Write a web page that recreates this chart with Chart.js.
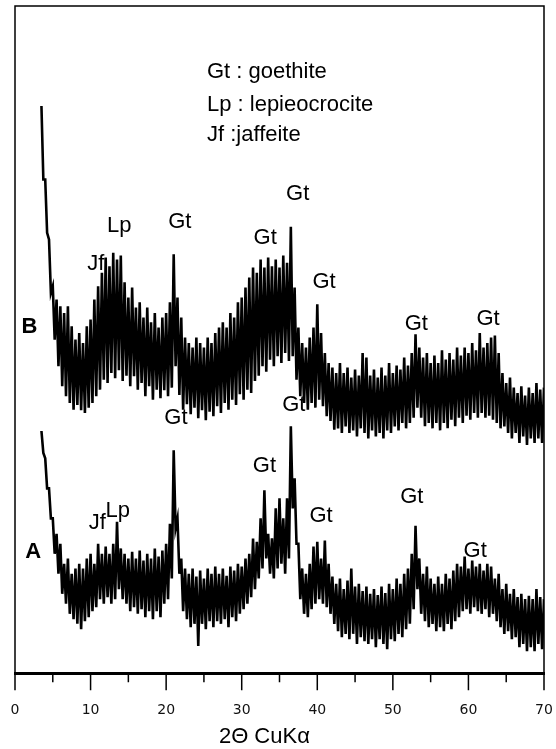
<!DOCTYPE html>
<html>
<head>
<meta charset="utf-8">
<script src="https://cdn.jsdelivr.net/npm/chart.js@4.4.1/dist/chart.umd.min.js"></script>
<style>
  html, body { margin: 0; padding: 0; background: #fff; }
  #wrap { width: 556px; height: 749px; position: relative; }
</style>
</head>
<body>
<div id="wrap"><canvas id="xrdChart"></canvas></div>
<script>
// 2-theta grid: first angle and step (degrees)
var angleStart = 3.5;
var angleStep = 0.5;

// pattern B (upper trace): top and bottom of the noisy band, 3.5 .. 70 deg
var bHigh = [85, 74, 65,
  58, 56, 55, 54, 55, 52, 50, 51, 49.5, 52,
  53, 56, 58, 60, 62.3, 61, 63, 62, 62.6, 58.6,
  56.3, 57.8, 54.8, 55.6, 53.3, 54.8, 52.6, 54, 51.8, 53.3,
  54, 55.6, 62.8, 56.3, 53.3, 50.3, 49.5, 48.8, 50.3, 49.5,
  48.8, 50.3, 49.5, 51, 51.8, 52.6, 51.8, 54, 53.3, 55.6,
  56.3, 57.8, 59.3, 60.8, 60, 62, 60.8, 62.3, 61, 62,
  60.8, 62.6, 61.5, 66.9, 57.8, 51.8, 49.5, 48.8, 50.3, 51.8,
  55.3, 51, 48, 46.5, 45.8, 45, 46.5, 45, 45.8, 44.3,
  45.5, 44.6, 48, 47.3, 44.6, 45.5, 44.3, 45.8, 44.6, 46.5,
  45, 46.1, 45.5, 47.3, 46.1, 48, 50.8, 48.8, 47.3, 48,
  46.5, 47.6, 46.5, 48.4, 47, 48, 47, 48.8, 47.6, 48.8,
  48, 49.5, 48.4, 51, 48.8, 49.5, 50.3, 50.6, 48, 45,
  43.5, 44.3, 42.8, 42, 43, 41.6, 42.8, 42, 43.5, 42.5,
  42.8];
var bLow = [74, 66, 57,
  50, 46, 43, 41.5, 40.5, 39.5, 40.2, 39.4, 39, 39.8,
  40.5, 41.5, 42.5, 44, 43.5, 45, 44.2, 45.4, 43.8, 44.6,
  43, 44.5, 42.5, 43.5, 41.5, 43, 41, 42.5, 41.2, 42.4,
  41.5, 42.8, 46, 41.7, 39.5, 40.3, 38.8, 39.8, 38.2, 39.4,
  37.9, 39.2, 38.5, 40, 39, 40.5, 39.5, 41, 40.2, 41.8,
  41, 42.5, 42, 43.8, 44.6, 46, 45.2, 47, 46, 47.5,
  46.5, 48, 46.8, 47.5, 44, 41.5, 40.5, 39.5, 40.5, 39.8,
  41, 40, 38.5, 37.8, 36.5, 36.7, 36, 37, 36, 36.4,
  35.5, 36.7, 36, 35.2, 36.4, 35.5, 36, 35.2, 36.4, 36,
  37, 36.4, 37.5, 36.7, 37.5, 38.3, 39.8, 38.3, 37, 37.5,
  36.7, 37.5, 36.4, 37.5, 36.7, 38, 37, 38.3, 37.5, 38.6,
  38, 39, 38.3, 39, 38.3, 38.6, 38, 37.5, 36.7, 37,
  36, 35.2, 36, 34.5, 35.5, 34.2, 35.2, 34.5, 35.2, 34.5,
  35];

// pattern A (lower trace)
var aHigh = [36.3, 32.2, 27.7,
  23.2, 20.9, 19.4, 16.4, 17.2, 14.9, 15.7, 16.4, 15.7, 17.2,
  17.9, 16.4, 19.4, 17.9, 19, 17.9, 19.4, 22.7, 18.7, 17.9,
  17.2, 18.2, 17.2, 18.4, 16.9, 17.9, 17.2, 18.7, 17.5, 18.4,
  19.4, 22.4, 33.4, 23.2, 17.2, 15.7, 14.9, 15.7, 14.5, 15.4,
  14.2, 15.7, 14.9, 16, 14.9, 15.7, 14.6, 16, 15.4, 16.4,
  16, 17.2, 17.9, 20.2, 19.7, 23.2, 27.4, 20.9, 20.2, 24.7,
  26.2, 23.2, 26.2, 37, 29.2, 19.4, 15.7, 14.9, 16.4, 19,
  19.7, 17.2, 19.9, 16.4, 14.5, 13.4, 14.2, 12.6, 13.9, 15.7,
  13, 13.4, 12.3, 13, 11.9, 12.6, 11.7, 13, 12, 13.4,
  12.6, 14.2, 13.4, 14.9, 15.7, 17.9, 22.1, 17.2, 14.9, 16,
  14.2, 13.4, 14.5, 13.4, 14.9, 14.2, 15.4, 16.4, 16, 17.5,
  15.7, 16.9, 16, 16.4, 15.4, 16.4, 16, 14.2, 14.9, 12.6,
  13.4, 11.9, 12.6, 11.4, 11.9, 11.1, 11.6, 11.1, 12.6, 11.4,
  11.1];
var aLow = [33, 27.7, 23.2,
  17.9, 14.9, 11.9, 10.4, 8.9, 8.1, 7.4, 6.6, 7.8, 8.4,
  9.3, 9.9, 11.1, 10.4, 11.4, 10.4, 11.1, 12.6, 11.1, 10.4,
  9.3, 9.9, 8.9, 9.6, 8.4, 9.3, 8.1, 9.3, 8.4, 10.4,
  11.1, 14.2, 21.7, 14.9, 9.3, 8.1, 6.9, 7.4, 4.1, 7.4,
  6.6, 7.8, 6.9, 7.8, 7.4, 8.1, 6.9, 8.4, 7.8, 8.9,
  9.6, 10.4, 11.4, 12.6, 14.2, 15.7, 17.2, 14.9, 14.2, 15.7,
  16.4, 14.9, 17.2, 24.7, 19.4, 11.1, 8.9, 8.4, 9.6, 10.4,
  11.1, 10.4, 9.9, 8.9, 7.4, 6.3, 5.4, 5.9, 5.1, 5.9,
  4.4, 5.4, 4.8, 4.4, 5.1, 3.9, 5.1, 4.4, 3.6, 5.1,
  4.8, 5.9, 5.4, 6.6, 7.4, 9.6, 12.6, 8.9, 7.8, 6.9,
  7.4, 6.3, 6.9, 6.3, 7.4, 6.6, 7.8, 8.4, 9.3, 9.6,
  8.9, 9.9, 9.3, 8.9, 9.6, 8.4, 8.9, 7.8, 6.9, 5.9,
  6.3, 5.1, 5.4, 3.9, 4.4, 3.3, 3.9, 3.3, 4.4, 3.6,
  3.9];

// x tick labels
var xTicks = [0, 10, 20, 30, 40, 50, 60, 70];

// phase labels on the peaks (angle, intensity)
var peakLabels = [
  { text: 'Jf', x: 10.7, y: 61.4 }, { text: 'Lp', x: 13.8, y: 67.0 },
  { text: 'Gt', x: 21.8, y: 67.7 }, { text: 'Gt', x: 33.1, y: 65.3 },
  { text: 'Gt', x: 37.4, y: 71.9 }, { text: 'Gt', x: 40.9, y: 58.6 },
  { text: 'Gt', x: 53.1, y: 52.3 }, { text: 'Gt', x: 62.6, y: 53.1 },
  { text: 'Gt', x: 21.3, y: 38.3 }, { text: 'Gt', x: 36.9, y: 40.2 },
  { text: 'Gt', x: 33.0, y: 31.0 }, { text: 'Jf', x: 10.9, y: 22.5 },
  { text: 'Lp', x: 13.6, y: 24.3 }, { text: 'Gt', x: 40.5, y: 23.5 },
  { text: 'Gt', x: 52.5, y: 26.4 }, { text: 'Gt', x: 60.9, y: 18.3 }
];
var traceNames = [{ text: 'B', x: 1.9, y: 51.9 }, { text: 'A', x: 2.4, y: 18.1 }];
var legendLines = ['Gt : goethite', 'Lp : lepieocrocite', 'Jf :jaffeite'];
var legendY = [89.2, 84.2, 79.8];

function zigzag(hi, lo) {
  var pts = [];
  for (var i = 0; i < hi.length; i++) {
    var a = angleStart + i * angleStep;
    pts.push({ x: a, y: hi[i] });
    if (i < hi.length - 1) pts.push({ x: a + angleStep / 2, y: lo[i] });
  }
  return pts;
}

var decor = {
  id: 'decor',
  afterDraw: function (chart) {
    var ctx = chart.ctx, ca = chart.chartArea;
    var xs = chart.scales.x, ys = chart.scales.y;
    ctx.save();
    ctx.strokeStyle = '#000';
    ctx.lineWidth = 1.5;
    ctx.beginPath();
    ctx.moveTo(ca.left, ca.bottom);
    ctx.lineTo(ca.left, ca.top);
    ctx.lineTo(ca.right, ca.top);
    ctx.lineTo(ca.right, ca.bottom);
    ctx.stroke();
    // major and minor ticks
    ctx.beginPath();
    for (var m = 0; m <= 70; m += 5) {
      var px = xs.getPixelForValue(m);
      ctx.moveTo(px, ca.bottom);
      ctx.lineTo(px, ca.bottom + (m % 10 === 0 ? 17 : 9));
    }
    ctx.stroke();

    ctx.fillStyle = '#000';
    ctx.textAlign = 'center';
    ctx.textBaseline = 'middle';
    ctx.font = '22px "Liberation Sans", Arial, sans-serif';
    peakLabels.forEach(function (l) {
      ctx.fillText(l.text, xs.getPixelForValue(l.x), ys.getPixelForValue(l.y));
    });
    ctx.font = 'bold 22px "Liberation Sans", Arial, sans-serif';
    traceNames.forEach(function (l) {
      ctx.fillText(l.text, xs.getPixelForValue(l.x), ys.getPixelForValue(l.y));
    });

    ctx.textAlign = 'left';
    ctx.textBaseline = 'alphabetic';
    ctx.font = '22px "Liberation Sans", Arial, sans-serif';
    for (var i = 0; i < legendLines.length; i++) {
      ctx.fillText(legendLines[i], xs.getPixelForValue(25.4), ys.getPixelForValue(legendY[i]));
    }

    // axis title
    ctx.textAlign = 'center';
    ctx.textBaseline = 'middle';
    ctx.font = '22px "Liberation Sans Narrow", "Liberation Sans", Arial, sans-serif';
    ctx.fillText('2\u0398 CuK\u03b1', xs.getPixelForValue(33.0), ca.bottom + 64);
    ctx.restore();
  }
};

var ctx = document.getElementById('xrdChart');
var xrdChart = new Chart(ctx, {
  type: 'line',
  data: {
    datasets: [
      { label: 'B', data: zigzag(bHigh, bLow), borderColor: '#000', borderWidth: 2.6, pointRadius: 0, tension: 0 },
      { label: 'A', data: zigzag(aHigh, aLow), borderColor: '#000', borderWidth: 2.6, pointRadius: 0, tension: 0 }
    ]
  },
  options: {
    responsive: true,
    maintainAspectRatio: false,
    animation: false,
    layout: { padding: { left: 15, right: 12, top: 6, bottom: 30 } },
    plugins: { legend: { display: false }, tooltip: { enabled: false } },
    scales: {
      x: {
        type: 'linear',
        min: 0,
        max: 70,
        afterBuildTicks: function (scale) {
          scale.ticks = xTicks.map(function (v) { return { value: v }; });
        },
        ticks: { color: '#111', padding: 0, maxRotation: 0, font: { family: 'DejaVu Sans', size: 14 } },
        grid: { drawOnChartArea: false, drawTicks: true, tickLength: 29, tickColor: 'rgba(0,0,0,0)' },
        border: { display: true, width: 3, color: '#000' }
      },
      y: { display: false, min: 0, max: 100 }
    }
  },
  plugins: [decor]
});
</script>
</body>
</html>
